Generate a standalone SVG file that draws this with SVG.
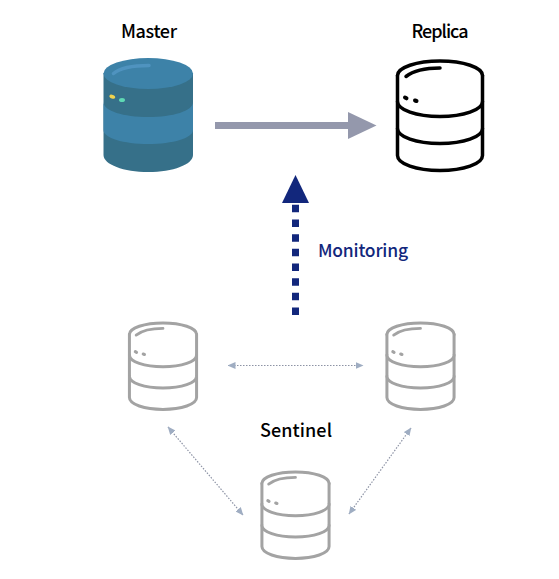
<svg xmlns="http://www.w3.org/2000/svg" width="559" height="579" viewBox="0 0 559 579">
<style>
.t{font-family:"Noto Sans CJK KR","Noto Sans",sans-serif;font-size:18px;font-weight:500;fill:#000;text-anchor:middle}
.db{fill:#fff;stroke-linecap:round;stroke-linejoin:round}
.db path,.db ellipse{fill:none}
.lg{stroke:#a3a3a3;stroke-width:3.800}
.bk{stroke:#000;stroke-width:3.500}
.thin{fill:none;stroke:#8d93a5;stroke-width:1.200;stroke-dasharray:1.500 1.500;marker-start:url(#sh);marker-end:url(#sh)}
</style>
<defs>
<marker id="sh" viewBox="0 0 8 7" refX="7.500" refY="3.500" markerUnits="userSpaceOnUse" markerWidth="8" markerHeight="7" orient="auto-start-reverse"><path d="M0 0L8 3.500L0 7Z" fill="#9fadc2"/></marker>
<g id="dbshape">
<ellipse cx="0" cy="15" rx="42.500" ry="14.500"/>
<path d="M-42.500 15V95C-42.500 103.500 -23.500 110 0 110C23.500 110 42.500 103.500 42.500 95V15"/>
<path d="M-42.500 41C-42.500 49.500 -23.500 56 0 56C23.500 56 42.500 49.500 42.500 41"/>
<path d="M-42.500 68C-42.500 76.500 -23.500 83 0 83C23.500 83 42.500 76.500 42.500 68"/>
<path d="M-34 16C-27 10.500 -14 7.500 0 7.500" stroke-width="3.500"/>
<path d="M-35 37L-33.500 37.800M-25 40L-23.500 40.500" stroke-width="4"/>
</g>
</defs>
<rect width="559" height="579" fill="#fff"/>
<g id="master">
<path d="M103.500 73V155C103.500 164.500 123.500 172 148.250 172C173 172 193 164.500 193 155V73Z" fill="#367089"/>
<path d="M103.500 102C103.500 111 123.500 117 148.250 117C173 117 193 111 193 102V130C193 138 173 144 148.250 144C123.500 144 103.500 138 103.500 130Z" fill="#3d82a8"/>
<ellipse cx="148.250" cy="73.500" rx="44.750" ry="15.500" fill="#3d82a8"/>
<path d="M113.500 73.500C120 68 135 65.500 149 65.500" fill="none" stroke="#4f93bf" stroke-width="3.500" stroke-linecap="round"/>
<ellipse cx="112.300" cy="96.700" rx="3" ry="1.800" fill="#f0d34f" transform="rotate(20 112.300 96.700)"/>
<ellipse cx="122" cy="100" rx="3" ry="2" fill="#5ed9b4"/>
<text class="t" x="149" y="38" textLength="56">Master</text>
</g>
<g id="replica">
<use href="#dbshape" class="db bk" transform="translate(440 60.500)"/>
<text class="t" x="440" y="38" textLength="57">Replica</text>
</g>
<g id="sentinel-1"><use href="#dbshape" class="db lg" transform="translate(163 322.500) scale(.79)"/></g>
<g id="sentinel-2"><use href="#dbshape" class="db lg" transform="translate(420.500 322.500) scale(.79)"/></g>
<g id="sentinel-3"><use href="#dbshape" class="db lg" transform="translate(295.500 471.500) scale(.79)"/></g>
<text class="t" x="296" y="437" textLength="72">Sentinel</text>
<g id="connectors">
<path d="M215 125.500H349" fill="none" stroke="#9498ac" stroke-width="7"/>
<path d="M348 112L376.500 125.500L348 139Z" fill="#9498ac"/>
<path d="M295.500 315V204.500" fill="none" stroke="#12277c" stroke-width="7" stroke-dasharray="7.500 7.170"/>
<path d="M295.500 175L309 203H282Z" fill="#12277c"/>
<path class="thin" d="M228 365.500H363"/>
<path class="thin" d="M168 427L243 515"/>
<path class="thin" d="M411 428L349 514"/>
</g>
<text x="363" y="257" font-family="'Noto Sans CJK KR','Noto Sans',sans-serif" font-size="17.500" font-weight="500" fill="#12277c" text-anchor="middle" textLength="90">Monitoring</text>
</svg>
